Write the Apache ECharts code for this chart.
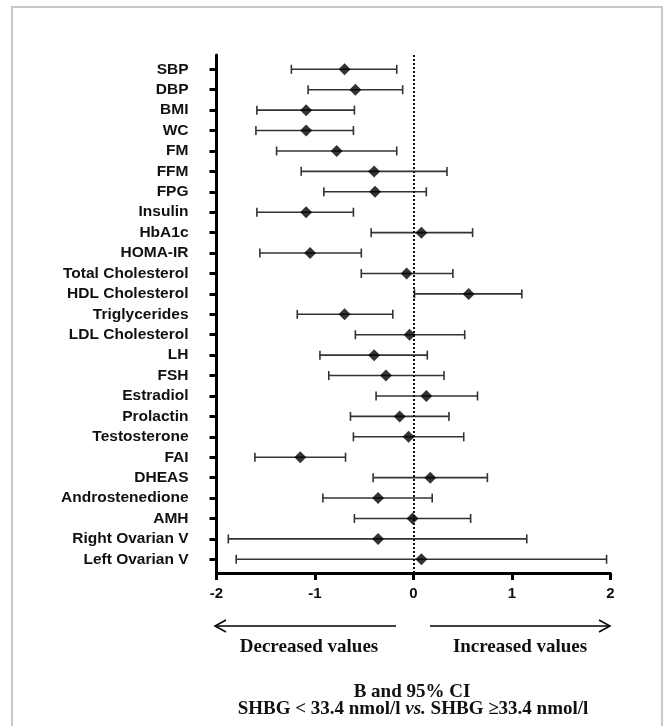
<!DOCTYPE html>
<html>
<head>
<meta charset="utf-8">
<script src="https://cdn.jsdelivr.net/npm/echarts@6/dist/echarts.min.js"></script>
<style>html,body{margin:0;padding:0;background:#fff;}#c{width:663px;height:726px;}</style>
</head>
<body>
<div id="c"></div>
<script>
const categories = ['SBP','DBP','BMI','WC','FM','FFM','FPG','Insulin','HbA1c','HOMA-IR','Total Cholesterol','HDL Cholesterol','Triglycerides','LDL Cholesterol','LH','FSH','Estradiol','Prolactin','Testosterone','FAI','DHEAS','Androstenedione','AMH','Right Ovarian V','Left Ovarian V'];
const estimates = [-0.70,-0.59,-1.09,-1.09,-0.78,-0.40,-0.39,-1.09,0.08,-1.05,-0.07,0.56,-0.70,-0.04,-0.40,-0.28,0.13,-0.14,-0.05,-1.15,0.17,-0.36,-0.01,-0.36,0.08];
const lower = [-1.24,-1.07,-1.59,-1.60,-1.39,-1.14,-0.91,-1.59,-0.43,-1.56,-0.53,0.01,-1.18,-0.59,-0.95,-0.86,-0.38,-0.64,-0.61,-1.61,-0.41,-0.92,-0.60,-1.88,-1.80];
const upper = [-0.17,-0.11,-0.60,-0.61,-0.17,0.34,0.13,-0.61,0.60,-0.53,0.40,1.10,-0.21,0.52,0.14,0.31,0.65,0.36,0.51,-0.69,0.75,0.19,0.58,1.15,1.96];
const xTickValues = [-2,-1,0,1,2];

const idx = categories.map((_, i) => i);
const chart = echarts.init(document.getElementById('c'), null, {renderer: 'canvas'});
const sans = 'Liberation Sans, Arial, sans-serif';
const serif = 'Liberation Serif, Times New Roman, serif';

const option = {
  animation: false,
  backgroundColor: '#fff',
  textStyle: {fontFamily: sans},
  grid: {left: 216.5, top: 55, width: 394, height: 518, containLabel: false},
  xAxis: {
    type: 'value', min: xTickValues[0], max: xTickValues[xTickValues.length - 1], interval: 1,
    axisLine: {show: true, onZero: false, lineStyle: {color: '#000', width: 3}},
    axisTick: {show: true, length: 7, lineStyle: {color: '#000', width: 3}},
    axisLabel: {color: '#111', fontWeight: 'bold', fontSize: 15, fontFamily: sans, margin: 13},
    splitLine: {show: false}
  },
  yAxis: {
    type: 'value', inverse: true, min: -0.70, max: 24.67,
    axisLine: {show: true, onZero: false, lineStyle: {color: '#000', width: 3}},
    axisTick: {show: true, length: 7, customValues: idx, lineStyle: {color: '#000', width: 3}},
    axisLabel: {show: true, customValues: idx, formatter: v => categories[Math.round(v)], color: '#111', fontWeight: 'bold', fontSize: 15.5, fontFamily: sans, margin: 28},
    splitLine: {show: false}
  },
  series: [
    {
      type: 'custom',
      z: 2,
      data: idx.map(i => [lower[i], upper[i], i]),
      encode: {x: [0, 1], y: 2},
      renderItem: function (params, api) {
        const y = api.value(2);
        const a = api.coord([api.value(0), y]);
        const b = api.coord([api.value(1), y]);
        const st = {stroke: '#333', lineWidth: 1.6};
        return {
          type: 'group',
          children: [
            {type: 'line', shape: {x1: a[0], y1: a[1], x2: b[0], y2: b[1]}, style: st},
            {type: 'line', shape: {x1: a[0], y1: a[1] - 4.5, x2: a[0], y2: a[1] + 4.5}, style: st},
            {type: 'line', shape: {x1: b[0], y1: b[1] - 4.5, x2: b[0], y2: b[1] + 4.5}, style: st}
          ]
        };
      },
      markLine: {
        silent: true,
        symbol: ['none', 'none'],
        label: {show: false},
        lineStyle: {color: '#111', width: 2, type: [2, 2]},
        data: [{xAxis: 0}]
      }
    },
    {
      type: 'scatter',
      z: 5,
      symbol: 'diamond',
      symbolSize: [12, 12],
      itemStyle: {color: '#000'},
      data: idx.map(i => [estimates[i], i])
    }
  ],
  graphic: [
    {type: 'rect', shape: {x: 12, y: 7, width: 650, height: 730}, style: {fill: 'none', stroke: '#c8c8c8', lineWidth: 2}, silent: true},
    {type: 'line', shape: {x1: 215, y1: 626, x2: 396, y2: 626}, style: {stroke: '#000', lineWidth: 1.5}},
    {type: 'polyline', shape: {points: [[226, 620], [215, 626], [226, 632]]}, style: {stroke: '#000', lineWidth: 1.5, fill: 'none'}},
    {type: 'line', shape: {x1: 430, y1: 626, x2: 610, y2: 626}, style: {stroke: '#000', lineWidth: 1.5}},
    {type: 'polyline', shape: {points: [[599, 620], [610, 626], [599, 632]]}, style: {stroke: '#000', lineWidth: 1.5, fill: 'none'}},
    {type: 'text', style: {text: 'Decreased values', x: 309, y: 647, align: 'center', verticalAlign: 'middle', font: 'bold 19px ' + serif, fill: '#111'}},
    {type: 'text', style: {text: 'Increased values', x: 520, y: 647, align: 'center', verticalAlign: 'middle', font: 'bold 19px ' + serif, fill: '#111'}},
    {type: 'text', style: {text: 'B and 95% CI', x: 412, y: 692, align: 'center', verticalAlign: 'middle', font: 'bold 19px ' + serif, fill: '#111'}},
    {type: 'text', style: {
      text: '{n|SHBG < 33.4 nmol/l }{i|vs.}{n| SHBG ≥33.4 nmol/l}', x: 413, y: 709, align: 'center', verticalAlign: 'middle',
      rich: {
        n: {fontFamily: serif, fontWeight: 'bold', fontSize: 19, fill: '#111'},
        i: {fontFamily: serif, fontWeight: 'bold', fontStyle: 'italic', fontSize: 19, fill: '#111'}
      }
    }}
  ]
};
chart.setOption(option);
</script>
</body>
</html>
